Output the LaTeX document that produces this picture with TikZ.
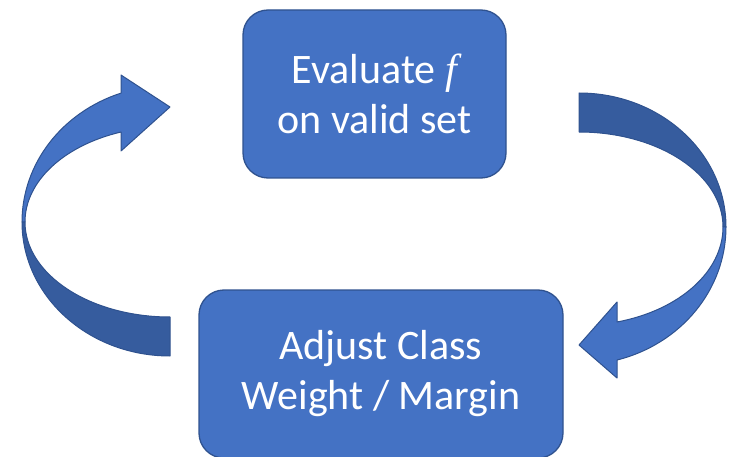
\documentclass[tikz,border=0pt]{standalone}
\usepackage{fontspec}
\setmainfont{Carlito}
\newfontfamily\fvarfont{Liberation Serif}
\usetikzlibrary{arrows.meta,positioning}
\definecolor{boxblue}{HTML}{4472C4}
\definecolor{edgeblue}{HTML}{2F528F}
\definecolor{backblue}{HTML}{365C9E}

\begin{document}
\begin{tikzpicture}[x=1pt,y=1pt,
  stepbox/.style={draw=edgeblue,line width=1.3pt,fill=boxblue,rounded corners=25pt,
    text=white,align=center,font=\fontsize{42}{50}\selectfont},
  frontband/.style={draw=edgeblue,line width=1pt,fill=boxblue,line join=round},
  backband/.style={draw=edgeblue,line width=1pt,fill=backblue,line join=round}]
\useasboundingbox (0,0) rectangle (737,456);
\node[stepbox,minimum width=263,minimum height=168] (eval) at (374.5,362) {Evaluate {\fvarfont\itshape f}\\on valid set};
\node[stepbox,minimum width=364,minimum height=168] (adjust) at (381,82) {Adjust Class\\Weight / Margin};
\draw[backband] (22,234) arc[start angle=180,end angle=270,x radius=148,y radius=134]
  -- (170,139) arc[start angle=270,end angle=180,x radius=145,y radius=95] -- cycle;
\draw[frontband] (22,234) arc[start angle=180,end angle=109.3,x radius=148,y radius=136.6]
  -- (121,381) -- (170,349) -- (121,305) -- (121,324)
  arc[start angle=109.75,end angle=180,x radius=145,y radius=95.6] -- cycle;
\draw[backband] (726,229) arc[start angle=0,end angle=90,x radius=147,y radius=134]
  -- (579,324) arc[start angle=90,end angle=0,x radius=144,y radius=95] -- cycle;
\draw[frontband] (726,229) arc[start angle=0,end angle=-75,x radius=147,y radius=137.7]
  -- (617,78) -- (579,111) -- (617,154) -- (617,134)
  arc[start angle=-74.7,end angle=0,x radius=144,y radius=98.5] -- cycle;
\end{tikzpicture}
\end{document}
